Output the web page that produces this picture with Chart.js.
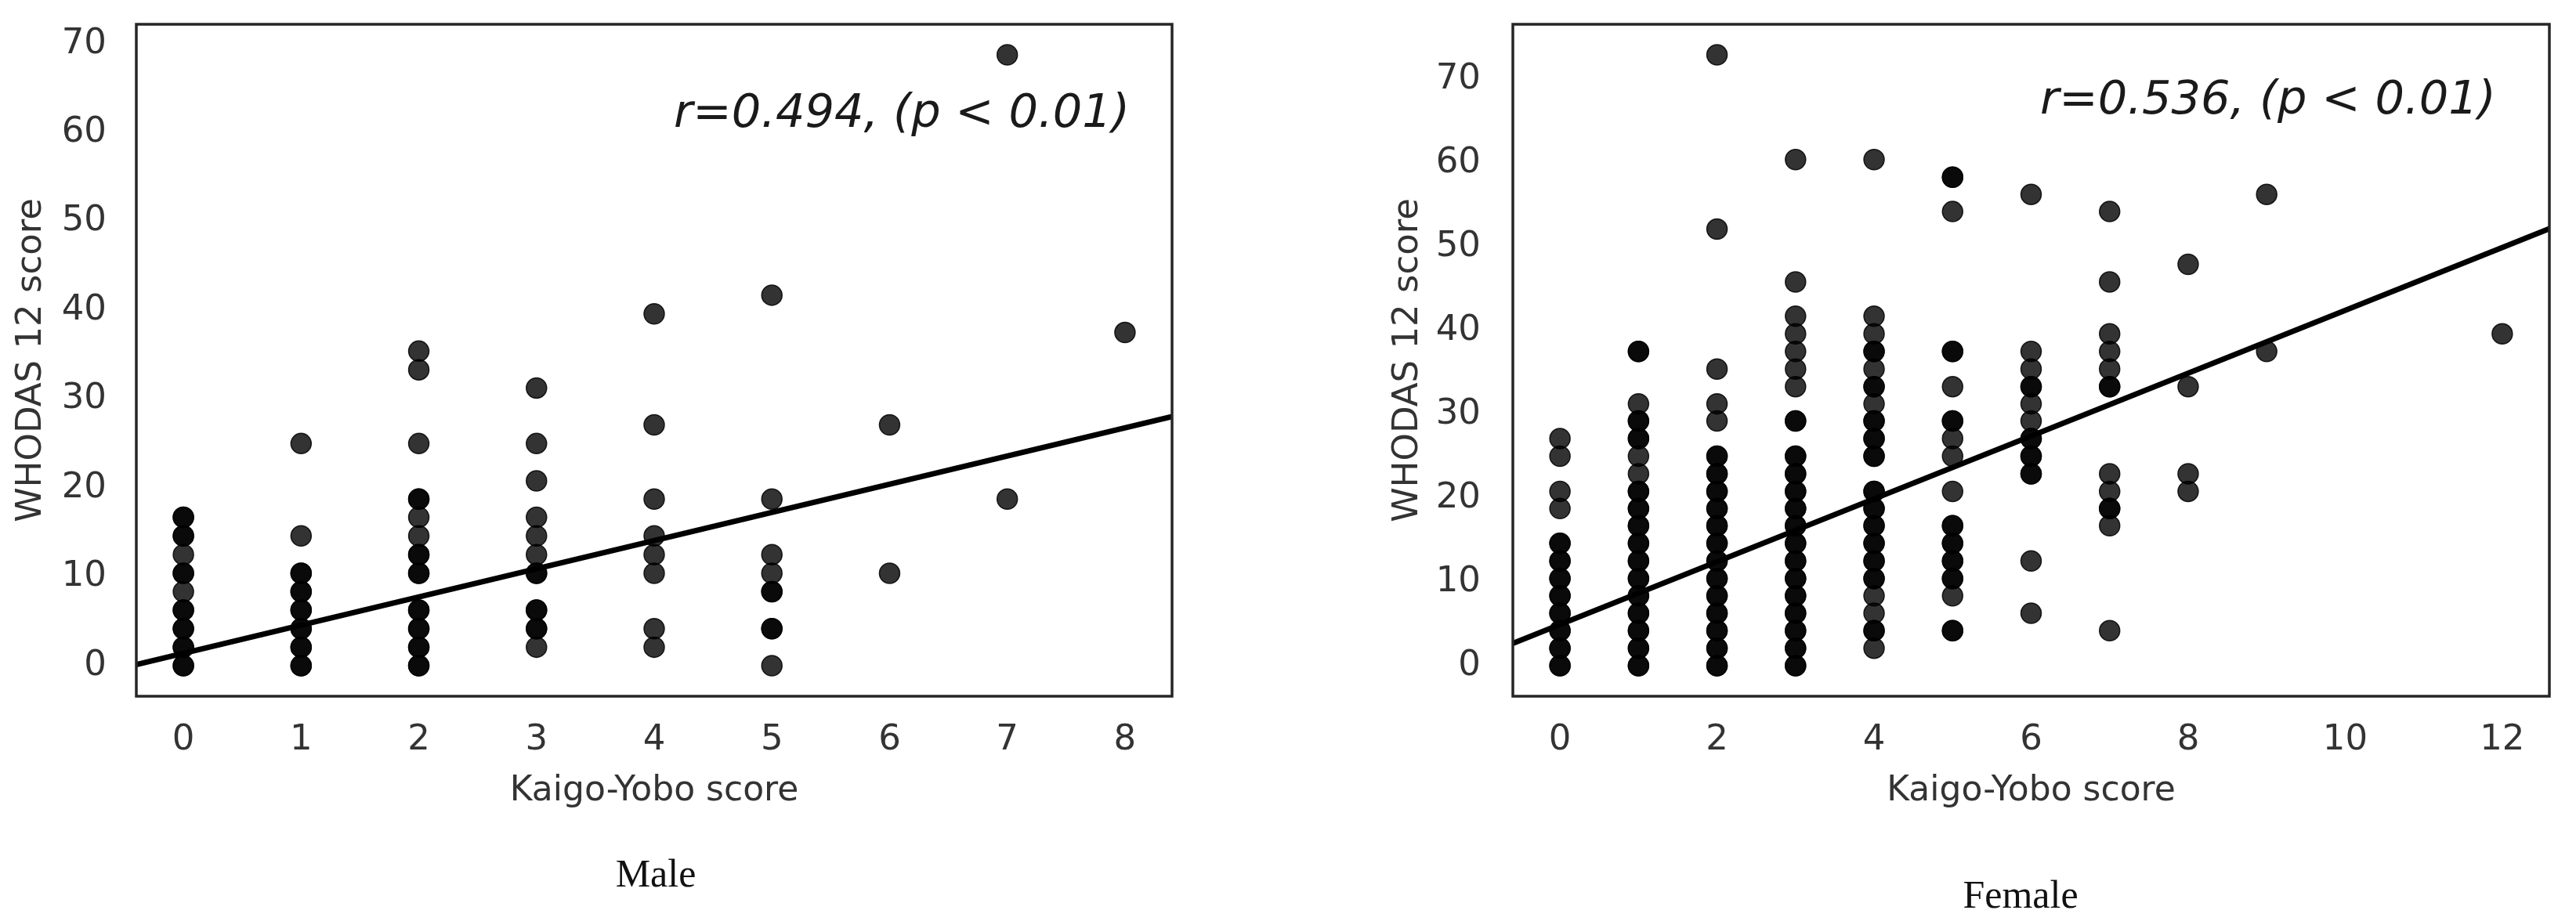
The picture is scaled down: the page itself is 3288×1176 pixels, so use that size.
<!DOCTYPE html>
<html>
<head>
<meta charset="utf-8">
<script src="https://cdn.jsdelivr.net/npm/chart.js@4/dist/chart.umd.min.js"></script>
<style>
  html, body { margin: 0; padding: 0; background: #fff; }
  body { width: 3288px; height: 1176px; position: relative; overflow: hidden; }
  .panel { position: absolute; top: 0; height: 1176px; }
  #malePanel { left: 0; width: 1644px; }
  #femalePanel { left: 1760px; width: 1528px; }
  .caption {
    position: absolute; font-family: "Liberation Serif", "DejaVu Serif", serif;
    font-size: 50px; color: #111; transform: translate(-50%, -50%); white-space: nowrap;
  }
</style>
</head>
<body>
<div class="panel" id="malePanel"><canvas id="maleChart"></canvas></div>
<div class="panel" id="femalePanel"><canvas id="femaleChart"></canvas></div>
<div class="caption" style="left:837px; top:1115px;">Male</div>
<div class="caption" style="left:2579px; top:1142px;">Female</div>

<script>
// Kaigo-Yobo score categories and WHODAS 12 scores
// (dark points = overlapping respondents, listed twice)
const maleKaigo = [0, 1, 2, 3, 4, 5, 6, 7, 8];
const maleWhodas = [
  [0, 0, 2.08, 2.08, 4.17, 4.17, 6.25, 6.25, 8.33, 10.4, 10.4, 12.5, 14.6, 14.6, 16.7, 16.7],
  [0, 0, 2.08, 2.08, 4.17, 4.17, 6.25, 6.25, 8.33, 8.33, 10.4, 10.4, 14.6, 25.0],
  [0, 0, 2.08, 2.08, 4.17, 4.17, 6.25, 6.25, 10.4, 10.4, 12.5, 12.5, 14.6, 16.7, 18.75, 18.75, 25.0, 33.3, 35.4],
  [2.08, 4.17, 4.17, 6.25, 6.25, 10.4, 10.4, 12.5, 14.6, 16.7, 20.8, 25.0, 31.25],
  [2.08, 4.17, 10.4, 12.5, 14.6, 18.75, 27.1, 39.6],
  [0, 4.17, 4.17, 8.33, 8.33, 10.4, 12.5, 18.75, 41.7],
  [10.4, 27.1],
  [18.75, 68.75],
  [37.5]
];

const femaleKaigo = [0, 1, 2, 3, 4, 5, 6, 7, 8, 9, 12];
const femaleWhodas = [
  [0, 0, 2.08, 2.08, 4.17, 4.17, 6.25, 6.25, 8.33, 8.33, 10.4, 10.4, 12.5, 12.5, 14.6, 14.6, 18.75, 20.8, 25.0, 27.1],
  [0, 0, 2.08, 2.08, 4.17, 4.17, 6.25, 6.25, 8.33, 8.33, 10.4, 10.4, 12.5, 12.5, 14.6, 14.6, 16.7, 16.7,
   18.75, 18.75, 20.8, 20.8, 22.9, 25.0, 27.1, 27.1, 29.2, 29.2, 31.25, 37.5, 37.5],
  [0, 0, 2.08, 2.08, 4.17, 4.17, 6.25, 6.25, 8.33, 8.33, 10.4, 10.4, 12.5, 12.5, 14.6, 14.6, 16.7, 16.7,
   18.75, 18.75, 20.8, 20.8, 22.9, 22.9, 25.0, 25.0, 29.2, 31.25, 35.4, 52.1, 72.9],
  [0, 0, 2.08, 2.08, 4.17, 4.17, 6.25, 6.25, 8.33, 8.33, 10.4, 10.4, 12.5, 12.5, 14.6, 14.6, 16.7, 16.7,
   18.75, 18.75, 20.8, 20.8, 22.9, 22.9, 25.0, 25.0, 29.2, 29.2, 33.3, 35.4, 37.5, 39.6, 41.7, 45.8, 60.4],
  [2.08, 4.17, 4.17, 6.25, 8.33, 10.4, 10.4, 12.5, 12.5, 14.6, 14.6, 16.7, 16.7, 18.75, 18.75, 20.8, 20.8,
   25.0, 25.0, 27.1, 27.1, 29.2, 29.2, 31.25, 33.3, 33.3, 35.4, 37.5, 37.5, 39.6, 41.7, 60.4],
  [4.17, 4.17, 8.33, 10.4, 10.4, 12.5, 12.5, 14.6, 14.6, 16.7, 16.7, 20.8, 25.0, 27.1, 29.2, 29.2, 33.3,
   37.5, 37.5, 54.2, 58.3, 58.3],
  [6.25, 12.5, 22.9, 22.9, 25.0, 25.0, 27.1, 27.1, 29.2, 31.25, 33.3, 33.3, 35.4, 37.5, 56.25],
  [4.17, 16.7, 18.75, 18.75, 20.8, 22.9, 33.3, 33.3, 35.4, 37.5, 39.6, 45.8, 54.2],
  [20.8, 22.9, 33.3, 47.9],
  [37.5, 56.25],
  [39.6]
];

// regression fits: [intercept, slope]
const maleFit = [1.4, 3.17];
const femaleFit = [4.9, 3.75];

// axis limits and tick labels
const maleXRange = [-0.4, 8.4];
const maleYRange = [-3.44, 72.19];
const femaleXRange = [-0.6, 12.6];
const femaleYRange = [-3.65, 76.55];
const maleXTicks = [0, 1, 2, 3, 4, 5, 6, 7, 8];
const femaleXTicks = [0, 2, 4, 6, 8, 10, 12];
const yTicks = [0, 10, 20, 30, 40, 50, 60, 70];

const maleNote = 'r=0.494, (p < 0.01)';
const femaleNote = 'r=0.536, (p < 0.01)';

const TEXT = '#333';
const FONT = '"DejaVu Sans", "Liberation Sans", sans-serif';

// Box around the plot area plus the correlation note
const framePlugin = {
  id: 'frame',
  afterDatasetsDraw(chart, args, opts) {
    const { ctx, chartArea: a, scales } = chart;
    ctx.save();
    ctx.strokeStyle = '#262626';
    ctx.lineWidth = 3.5;
    ctx.strokeRect(a.left, a.top, a.right - a.left, a.bottom - a.top);
    ctx.font = 'italic 59px ' + FONT;
    ctx.fillStyle = '#1a1a1a';
    ctx.textAlign = 'right';
    ctx.textBaseline = 'alphabetic';
    ctx.fillText(opts.text, scales.x.getPixelForValue(opts.x), scales.y.getPixelForValue(opts.y));
    ctx.restore();
  }
};

function buildChart(id, kaigo, whodas, fit, xRange, yRange, xTicks, cfg) {
  const points = kaigo.flatMap((k, i) => whodas[i].map(w => ({ x: k, y: w })));
  const line = xRange.map(x => ({ x: x, y: fit[0] + fit[1] * x }));

  return new Chart(document.getElementById(id), {
    type: 'scatter',
    data: {
      datasets: [
        {
          type: 'line',
          data: line,
          borderColor: '#000',
          borderWidth: 7,
          pointRadius: 0,
          fill: false,
          order: 0
        },
        {
          data: points,
          backgroundColor: 'rgba(0,0,0,0.8)',
          borderColor: 'rgba(0,0,0,0.85)',
          borderWidth: 1.5,
          pointRadius: 13,
          pointHoverRadius: 13,
          order: 1
        }
      ]
    },
    options: {
      responsive: true,
      maintainAspectRatio: false,
      animation: false,
      events: [],
      layout: { padding: { top: 31, right: cfg.padRight, bottom: 127, left: 0 } },
      plugins: {
        legend: { display: false },
        tooltip: { enabled: false },
        frame: { text: cfg.note, x: cfg.noteX, y: cfg.noteY }
      },
      scales: {
        x: {
          type: 'linear',
          min: xRange[0],
          max: xRange[1],
          afterBuildTicks: s => { s.ticks = xTicks.map(v => ({ value: v })); },
          afterFit: s => { s.height = 160; s.paddingLeft = 0; s.paddingRight = 0; },
          grid: { display: false, drawTicks: false },
          border: { display: false },
          ticks: { color: TEXT, font: { family: FONT, size: 45 }, padding: 29, maxRotation: 0 },
          title: {
            display: true, text: 'Kaigo-Yobo score', color: TEXT,
            font: { family: FONT, size: 44 }, padding: { top: 0, bottom: 12 }
          }
        },
        y: {
          type: 'linear',
          min: yRange[0],
          max: yRange[1],
          afterBuildTicks: s => { s.ticks = yTicks.map(v => ({ value: v })); },
          // keep the plot box where the reference has it: no extra label padding
          afterFit: s => { s.width = cfg.yWidth; s.paddingTop = 0; s.paddingBottom = 0; },
          grid: { display: false, drawTicks: false },
          border: { display: false },
          ticks: { color: TEXT, font: { family: FONT, size: 45 }, padding: cfg.tickPad },
          title: {
            display: true, text: 'WHODAS 12 score', color: TEXT,
            font: { family: FONT, size: 45 }, padding: { top: cfg.titlePad, bottom: 0 }
          }
        }
      }
    },
    plugins: [framePlugin]
  });
}

buildChart('maleChart', maleKaigo, maleWhodas, maleFit, maleXRange, maleYRange, maleXTicks, {
  padRight: 148, yWidth: 174, tickPad: 38, titlePad: 13,
  note: maleNote, noteX: 8.04, noteY: 60.6
});

buildChart('femaleChart', femaleKaigo, femaleWhodas, femaleFit, femaleXRange, femaleYRange, femaleXTicks, {
  padRight: 34, yWidth: 171, tickPad: 41, titlePad: 10,
  note: femaleNote, noteX: 11.92, noteY: 65.9
});
</script>
</body>
</html>
